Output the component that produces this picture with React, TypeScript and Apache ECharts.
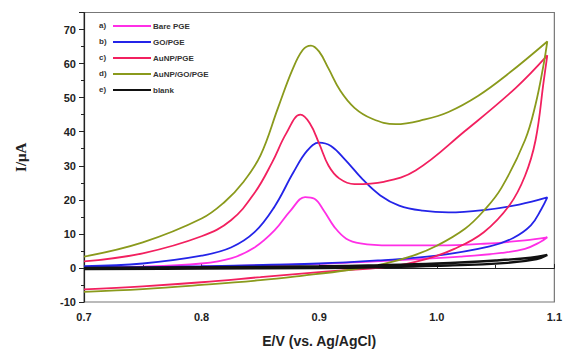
import React, { useEffect, useRef } from "react";
import * as echarts from "echarts";

const seriesNames = ["Bare PGE", "GO/PGE", "AuNP/PGE", "AuNP/GO/PGE", "blank"];
const prefixes = ["a)", "b)", "c)", "d)", "e)"];
const colors = ["#ff2fe6", "#2424e8", "#f2205f", "#8a9a1c", "#111111"];
const widths = [1.8, 1.8, 1.8, 1.8, 2.4];

const bare: number[][] = [
  [0.7, 0.2], [0.75, 0.4], [0.8, 1.3], [0.825, 2.8], [0.845, 6], [0.862, 11], [0.876, 17], [0.888, 20.8],
  [0.896, 20.3], [0.904, 16.8], [0.913, 12], [0.923, 8.6], [0.935, 7.2], [0.96, 6.6], [1.0, 6.6], [1.04, 7.1],
  [1.075, 8.1], [1.094, 9],
  [1.088, 7.6], [1.075, 5.6], [1.055, 4.4], [1.02, 3.3], [0.98, 2.5], [0.94, 1.8], [0.9, 1.2], [0.8, 0.4], [0.7, -0.2],
];
const goPge: number[][] = [
  [0.7, 0.5], [0.75, 1.3], [0.8, 3.6], [0.825, 6], [0.845, 10.5], [0.862, 18], [0.878, 28], [0.89, 34.5],
  [0.9, 36.8], [0.91, 35.8], [0.922, 31.8], [0.937, 26], [0.952, 21.3], [0.968, 18.3], [0.988, 16.8], [1.01, 16.3],
  [1.04, 17], [1.07, 18.6], [1.094, 20.7],
  [1.089, 17.3], [1.08, 12.5], [1.065, 8.8], [1.045, 6.3], [1.0, 3.6], [0.95, 2.2], [0.9, 1.3], [0.8, 0.5], [0.7, 0.1],
];
const auPge: number[][] = [
  [0.7, 1.9], [0.75, 4.3], [0.8, 9.3], [0.825, 14], [0.845, 22], [0.86, 31], [0.872, 39.5], [0.884, 45],
  [0.892, 42.5], [0.9, 36.5], [0.908, 30], [0.917, 26.3], [0.93, 24.6], [0.955, 25.3], [0.982, 28.6],
  [1.024, 40.2], [1.067, 52.8], [1.094, 62.4],
  [1.091, 55], [1.084, 37.5], [1.075, 27], [1.062, 18.5], [1.04, 10.5], [1.015, 5.6], [0.99, 2.5],
  [0.96, 0.4], [0.9, -1.2], [0.85, -2.7], [0.8, -4.2], [0.75, -5.4], [0.7, -6.3],
];
const auGoPge: number[][] = [
  [0.7, 3.3], [0.75, 7.5], [0.8, 14.5], [0.82, 19.5], [0.835, 25], [0.85, 33], [0.865, 47], [0.877, 58],
  [0.886, 64], [0.893, 65.3], [0.9, 63.5], [0.908, 58.5], [0.918, 52], [0.93, 47], [0.945, 43.8],
  [0.965, 42.2], [0.99, 43.6], [1.01, 45.8], [1.035, 50.5], [1.06, 56.8], [1.094, 66.5],
  [1.091, 60], [1.084, 48], [1.075, 37.5], [1.055, 23.5], [1.04, 16.8], [1.024, 11.5], [1.0, 6.5], [0.98, 3.6],
  [0.955, 1.2], [0.925, -0.6], [0.885, -2.3], [0.85, -3.6], [0.8, -5], [0.75, -6.2], [0.7, -7],
];
const blank: number[][] = [
  [0.7, 0], [0.8, 0.2], [0.9, 0.5], [0.95, 0.8], [1.0, 1.3], [1.05, 2.2], [1.08, 3], [1.094, 3.8],
  [1.085, 2.6], [1.06, 1.5], [1.0, 0.6], [0.95, 0.2], [0.9, 0], [0.8, -0.2], [0.7, -0.3],
];
const allData = [bare, goPge, auPge, auGoPge, blank];

const xMin = 0.7, xMax = 1.1, xInterval = 0.1;
const yMin = -10, yMax = 75, yInterval = 10;

export default function App() {
  const ref = useRef<HTMLDivElement>(null);
  useEffect(() => {
    if (!ref.current) return;
    const chart = echarts.init(ref.current, undefined, { renderer: "svg" });
    const font = "Arial, 'Liberation Sans', sans-serif";
    chart.setOption({
      animation: false,
      backgroundColor: "#ffffff",
      grid: { left: 84, right: 9, top: 12.5, bottom: 50, show: true, borderColor: "#777", borderWidth: 1.2 },
      legend: {
        orient: "vertical",
        left: 108,
        top: 16,
        icon: "rect",
        itemWidth: 38,
        itemHeight: 2.2,
        itemGap: 6,
        data: seriesNames,
        textStyle: { fontFamily: font, fontWeight: "bold", fontSize: 8, lineHeight: 10, color: "#333", padding: [0, 0, 0, -3] },
      },
      graphic: prefixes.map((p, i) => ({
        type: "text",
        left: 99,
        top: 21 + i * 16,
        style: { text: p, font: `bold 8px ${font}`, fill: "#333" },
      })),
      xAxis: {
        type: "value",
        min: xMin,
        max: xMax,
        interval: xInterval,
        name: "E/V (vs. Ag/AgCl)",
        nameLocation: "middle",
        nameGap: 32,
        nameTextStyle: { fontFamily: font, fontWeight: "bold", fontSize: 14, color: "#222" },
        axisLine: { lineStyle: { color: "#222", width: 1.2 } },
        axisTick: { inside: true, length: 4, lineStyle: { color: "#222" } },
        minorTick: { show: true, splitNumber: 2, length: 3, lineStyle: { color: "#222" } },
        splitLine: { show: false },
        axisLabel: {
          fontFamily: font, fontWeight: "bold", fontSize: 11, color: "#222", margin: 9,
          formatter: (v: number) => v.toFixed(1),
        },
      },
      yAxis: {
        type: "value",
        min: yMin,
        max: yMax,
        interval: yInterval,
        name: "I/μA",
        nameLocation: "middle",
        nameGap: 56,
        nameRotate: 90,
        nameTextStyle: { fontFamily: "'Liberation Serif', 'DejaVu Serif', serif", fontWeight: "bold", fontSize: 15, color: "#222" },
        axisLine: { show: true, lineStyle: { color: "#222", width: 1.2 } },
        axisTick: { inside: false, length: 5, lineStyle: { color: "#222" } },
        minorTick: { show: true, splitNumber: 2, length: 3, lineStyle: { color: "#222" } },
        splitLine: { show: false },
        axisLabel: {
          fontFamily: font, fontWeight: "bold", fontSize: 11, color: "#222", margin: 8,
          showMaxLabel: false,
        },
      },
      series: seriesNames.map((n, i) => ({
        name: n,
        type: "line",
        data: allData[i],
        symbol: "none",
        smooth: 0.4,
        color: colors[i],
        lineStyle: { color: colors[i], width: widths[i] },
        z: i === 4 ? 3 : 2,
      })),
    });
    return () => chart.dispose();
  }, []);
  return <div ref={ref} style={{ position: "absolute", left: 0, top: 0, width: 565, height: 353 }} />;
}
